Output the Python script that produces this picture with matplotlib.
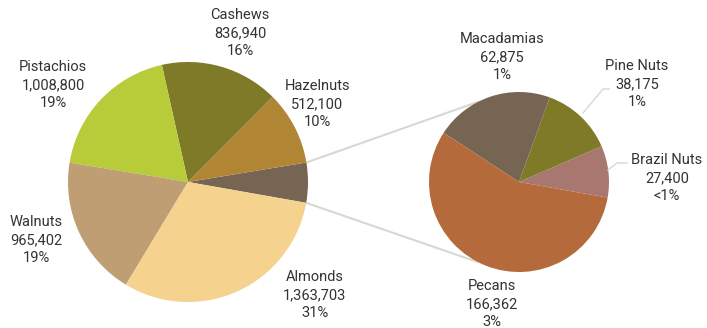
import numpy as np
import matplotlib.pyplot as plt

plt.rcParams['font.family'] = ['Roboto', 'DejaVu Sans']

# main pie (slice sizes follow the shown shares)
main_names = ['Other', 'Hazelnuts', 'Cashews', 'Pistachios', 'Walnuts', 'Almonds']
main_values = [None, '512,100', '836,940', '1,008,800', '965,402', '1,363,703']
main_pct = [None, '10%', '16%', '19%', '19%', '31%']
main_share = [5.4, 10, 16, 19, 19, 31]
main_colors = ['#776553', '#b08634', '#7e7a27', '#b8cc3a', '#be9e72', '#f5d28e']

# breakdown of "Other"
sub_names = ['Brazil Nuts', 'Pine Nuts', 'Macadamias', 'Pecans']
sub_values = [27400, 38175, 62875, 166362]
sub_pct = ['<1%', '1%', '1%', '3%']
sub_colors = ['#a87870', '#7e7a27', '#776553', '#b56a3c']

W, H = 707, 328
fig = plt.figure(figsize=(W / 100, H / 100), dpi=100)
ax = fig.add_axes([0, 0, 1, 1])

c1, r1 = (188, H - 182), 120
c2, r2 = (519, H - 182), 90

w1, _ = ax.pie(main_share, colors=main_colors, startangle=-10, counterclock=True,
               center=c1, radius=r1, wedgeprops=dict(linewidth=0))
w2, _ = ax.pie(sub_values, colors=sub_colors, startangle=-10, counterclock=True,
               center=c2, radius=r2, wedgeprops=dict(linewidth=0))

ax.set_xlim(0, W)
ax.set_ylim(0, H)
ax.set_aspect('equal')
ax.axis('off')

# connector lines from the "Other" slice to the second pie
lc = '#d8d8d0'
t1, t2 = w1[0].theta1, w1[0].theta2
for ta, tb in [(t2, 117), (t1, -117)]:
    p1 = (c1[0] + r1 * np.cos(np.radians(ta)), c1[1] + r1 * np.sin(np.radians(ta)))
    p2 = (c2[0] + r2 * np.cos(np.radians(tb)), c2[1] + r2 * np.sin(np.radians(tb)))
    ax.plot([p1[0], p2[0]], [p1[1], p2[1]], color=lc, lw=1.5, zorder=0)

fs = 10.5
tc = '#333333'
main_pos = [None, (317, 104), (240, 33), (53, 85), (36, 240), (315, 295)]
for i in range(1, len(main_names)):
    x, y = main_pos[i]
    ax.text(x, H - y, main_names[i] + '\n' + main_values[i] + '\n' + main_pct[i],
            ha='center', va='center', fontsize=fs, color=tc, linespacing=1.35)

sub_pos = [(667, 178), (637, 84), (502, 57), (492, 304)]
for i in range(len(sub_names)):
    x, y = sub_pos[i]
    ax.text(x, H - y, sub_names[i] + '\n' + f'{sub_values[i]:,}' + '\n' + sub_pct[i],
            ha='center', va='center', fontsize=fs, color=tc, linespacing=1.35)

# leader lines for the small slices
ax.plot([583, 603, 609], [H - 113, H - 89, H - 89], color=lc, lw=1)
ax.plot([608, 617, 627], [H - 170, H - 163, H - 163], color=lc, lw=1)

fig.savefig('out.png', dpi=100)
